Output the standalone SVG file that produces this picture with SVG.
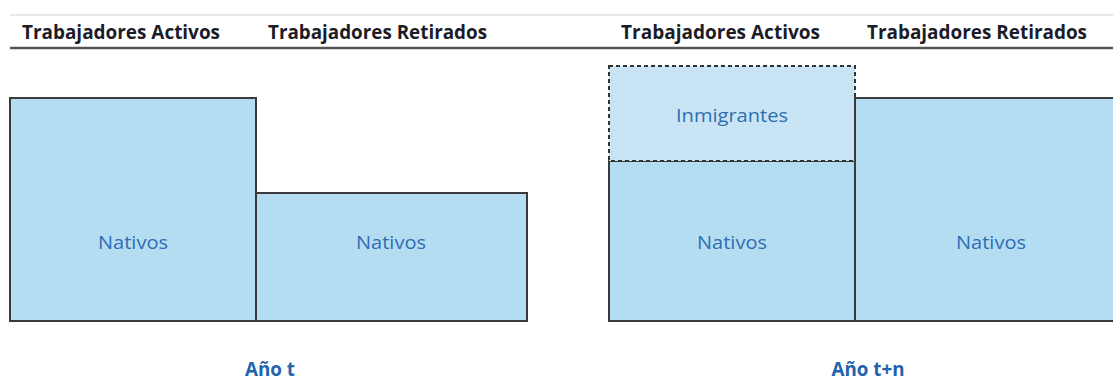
<svg xmlns="http://www.w3.org/2000/svg" width="1113" height="380" viewBox="0 0 1113 380">
<style>
.hdr{font-family:"Open Sans","Liberation Sans",sans-serif;font-weight:bold;font-size:19px;fill:#1c1c28}
.lbl{font-family:"Open Sans","Liberation Sans",sans-serif;font-size:19px;fill:#2f6db3;text-anchor:middle}
.yr{font-family:"Open Sans","Liberation Sans",sans-serif;font-weight:bold;font-size:19px;fill:#2263ad;text-anchor:middle}
.box{fill:#b5ddf2;stroke:#3a3a3a;stroke-width:2}
.dash{fill:#c9e5f5;stroke:#333;stroke-width:2;stroke-dasharray:4 3}
</style>
<rect width="1113" height="380" fill="#fff"/>
<g id="headers">
<line x1="10" y1="15" x2="1113" y2="15" stroke="#e0e0e0" stroke-width="1.5"/>
<line x1="10" y1="48" x2="1113" y2="48" stroke="#555" stroke-width="2.5"/>
<text class="hdr" x="22" y="39" textLength="198" lengthAdjust="spacingAndGlyphs">Trabajadores Activos</text>
<text class="hdr" x="268" y="39" textLength="219" lengthAdjust="spacingAndGlyphs">Trabajadores Retirados</text>
<text class="hdr" x="621" y="39" textLength="199" lengthAdjust="spacingAndGlyphs">Trabajadores Activos</text>
<text class="hdr" x="867" y="39" textLength="220" lengthAdjust="spacingAndGlyphs">Trabajadores Retirados</text>
</g>
<g id="t-activos-nativos">
<rect class="box" x="10" y="98" width="246" height="223"/>
<text class="lbl" x="133" y="249" textLength="70" lengthAdjust="spacingAndGlyphs">Nativos</text>
</g>
<g id="t-retirados-nativos">
<rect class="box" x="256" y="193" width="271" height="128"/>
<text class="lbl" x="391" y="249" textLength="70" lengthAdjust="spacingAndGlyphs">Nativos</text>
</g>
<g id="tn-activos-nativos">
<rect class="box" x="609" y="161" width="246" height="160"/>
<text class="lbl" x="732" y="249" textLength="70" lengthAdjust="spacingAndGlyphs">Nativos</text>
</g>
<g id="tn-activos-inmigrantes">
<rect class="dash" x="609" y="66" width="246" height="95"/>
<text class="lbl" x="732" y="122" textLength="112" lengthAdjust="spacingAndGlyphs">Inmigrantes</text>
</g>
<g id="tn-retirados-nativos">
<rect class="box" x="855" y="98" width="270" height="223"/>
<text class="lbl" x="991" y="249" textLength="70" lengthAdjust="spacingAndGlyphs">Nativos</text>
</g>
<g id="connectors"></g>
<text class="yr" x="270" y="376" textLength="50" lengthAdjust="spacingAndGlyphs">Año t</text>
<text class="yr" x="868" y="376" textLength="73" lengthAdjust="spacingAndGlyphs">Año t+n</text>
</svg>
